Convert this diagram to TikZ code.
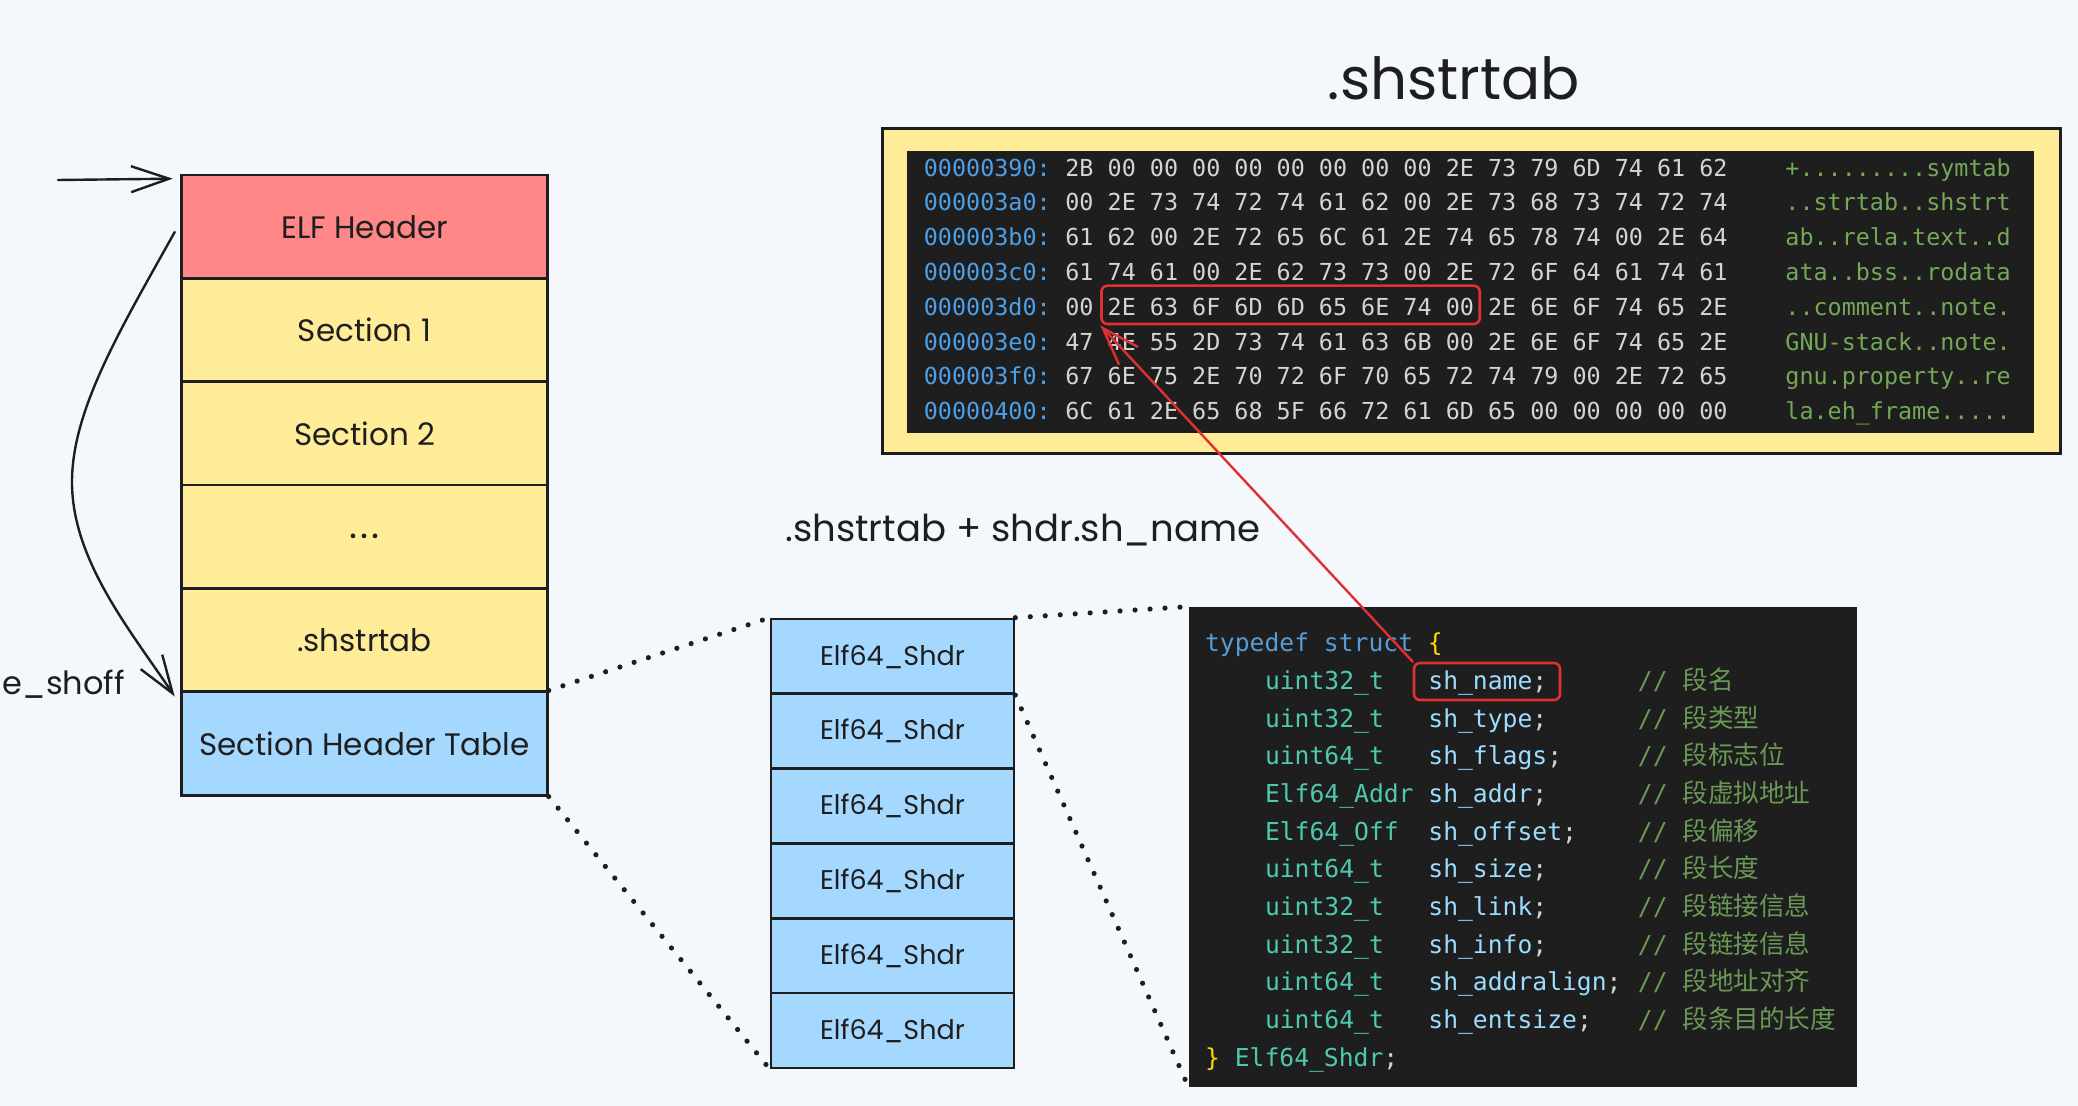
\documentclass[tikz,border=0pt]{standalone}
\usepackage{fontspec}
\usetikzlibrary{arrows.meta,calc}
\newfontfamily\hand{Poppins}
\newfontfamily\monof{DejaVu Sans Mono}
\newfontfamily\cjk{Noto Sans CJK SC}
\definecolor{bgc}{HTML}{F4F8FC}
\definecolor{stroke}{HTML}{1E1E1E}
\definecolor{elfred}{HTML}{FF8787}
\definecolor{yelF}{HTML}{FFEC99}
\definecolor{bluF}{HTML}{A5D8FF}
\definecolor{panel}{HTML}{1E1E1E}
\definecolor{addrc}{HTML}{4D9FE6}
\definecolor{hexc}{HTML}{D4D4D4}
\definecolor{ascc}{HTML}{73A857}
\definecolor{kwc}{HTML}{569CD6}
\definecolor{brc}{HTML}{FFD700}
\definecolor{tyc}{HTML}{4EC9B0}
\definecolor{nmc}{HTML}{9CDCFE}
\definecolor{cmc}{HTML}{6A9955}
\definecolor{redc}{HTML}{E03131}
\tikzset{
  cell/.style={draw=stroke, line width=1.3pt, minimum width=182.85pt, minimum height=51.7pt, inner sep=0pt, font=\hand\fontsize{15.5pt}{18pt}\selectfont, text=stroke},
  shdr/.style={draw=stroke, line width=1.3pt, fill=bluF, minimum width=121.5pt, minimum height=37.4pt, inner sep=0pt, font=\hand\fontsize{13.5pt}{16pt}\selectfont, text=stroke},
  hx/.style={anchor=base west, inner sep=0pt, font=\monof\fontsize{11.7pt}{14pt}\selectfont},
  cd/.style={anchor=base west, inner sep=0pt, font=\monof\fontsize{12.34pt}{15pt}\selectfont},
  handtext/.style={inner sep=0pt, text=stroke},
  arr/.style={draw=stroke, line width=1.2pt, line cap=round, -{Straight Barb[length=19pt,width=13pt,line width=1.2pt]}},
  redarr/.style={draw=redc, line width=1.2pt, line cap=round, -{Straight Barb[length=19pt,width=13pt,line width=1.2pt]}},
  dotline/.style={draw=stroke, line width=2.6pt, line cap=round, dash pattern=on 0pt off 7.5pt},
  redbox/.style={draw=redc, line width=1.3pt, rounded corners=3pt, inner sep=0pt}
}
\newcommand\hexrow[4]{%
  \node[hx, text=addrc] (ha#1) at (923.5,{176.2+34.8*#1}) {#2};
  \node[hx, text=hexc] (hb#1) at (1065,{176.2+34.8*#1}) {#3};
  \node[hx, text=ascc] (hc#1) at (1785,{176.2+34.8*#1}) {#4};
}
\begin{document}
\begin{tikzpicture}[x=0.5pt,y=-0.5pt]
\fill[bgc] (0,0) rectangle (2078,1106);
\useasboundingbox (0,0) rectangle (2078,1106);

% ---- left stack ----
\node[cell, fill=elfred] (elf) at (364.5,226.7) {ELF Header};
\node[cell, fill=yelF] (s1) at (364.5,330.0) {Section 1};
\node[cell, fill=yelF] (s2) at (364.5,433.4) {Section 2};
\node[cell, fill=yelF] (sd) at (364.5,536.7) {\fontsize{19pt}{20pt}\selectfont.\kern1.6pt.\kern1.6pt.};
\node[cell, fill=yelF] (sst) at (364.5,640.1) {.shstrtab};
\node[cell, fill=bluF] (sht) at (364.5,743.5) {Section Header Table};

% top arrow
\coordinate (ta) at (58,180);
\draw[arr] (ta) -- ($(elf.north west)+(-7.6,5)$);
% e_shoff curved arrow
\coordinate (cs) at ($(elf.west)+(-5.6,5.3)$);
\coordinate (cm) at (72,482);
\coordinate (ce) at ($(sht.north west)+(-5.6,6)$);
\draw[arr] (cs) .. controls (120,330) and (72,410) .. (cm) .. controls (72,560) and (130,630) .. (ce);
\node[handtext, font=\hand\fontsize{16pt}{18pt}\selectfont] (esh) at (64,684) {e\_shoff};

% ---- Elf64_Shdr stack ----
\foreach \i [count=\k from 0] in {1,2,3,4,5,6}{
  \node[shdr] (e\i) at (892.5,{656.4+74.8*\k}) {Elf64\_Shdr};
}

% ---- title & label ----
\node[handtext, font=\hand\fontsize{29pt}{32pt}\selectfont] (title) at (1454,78) {.shstrtab};
\node[handtext, font=\hand\fontsize{18.5pt}{22pt}\selectfont] (lbl) at (1023,530) {.shstrtab + shdr.sh\_name};

% ---- hex panel ----
\node[draw=stroke, line width=1.5pt, fill=yelF, minimum width=589.1pt, minimum height=162.35pt, inner sep=0pt] (hexout) at (1471.7,291) {};
\node[fill=panel, minimum width=563.75pt, minimum height=140.85pt, inner sep=0pt] (hexin) at (1470.25,291.85) {};
\hexrow{0}{00000390:}{2B 00 00 00 00 00 00 00 00 2E 73 79 6D 74 61 62}{+.........symtab}
\hexrow{1}{000003a0:}{00 2E 73 74 72 74 61 62 00 2E 73 68 73 74 72 74}{..strtab..shstrt}
\hexrow{2}{000003b0:}{61 62 00 2E 72 65 6C 61 2E 74 65 78 74 00 2E 64}{ab..rela.text..d}
\hexrow{3}{000003c0:}{61 74 61 00 2E 62 73 73 00 2E 72 6F 64 61 74 61}{ata..bss..rodata}
\hexrow{4}{000003d0:}{00 2E 63 6F 6D 6D 65 6E 74 00 2E 6E 6F 74 65 2E}{..comment..note.}
\hexrow{5}{000003e0:}{47 4E 55 2D 73 74 61 63 6B 00 2E 6E 6F 74 65 2E}{GNU-stack..note.}
\hexrow{6}{000003f0:}{67 6E 75 2E 70 72 6F 70 65 72 74 79 00 2E 72 65}{gnu.property..re}
\hexrow{7}{00000400:}{6C 61 2E 65 68 5F 66 72 61 6D 65 00 00 00 00 00}{la.eh\_frame.....}
\node[redbox, minimum width=189.1pt, minimum height=19.15pt] (rb) at (1290.6,304.85) {};

% ---- code panel ----
\node[fill=panel, minimum width=334pt, minimum height=240pt, inner sep=0pt] (code) at (1523,847) {};
\node[cd] (c0) at (1204.7,652) {\textcolor{kwc}{typedef struct} \textcolor{brc}{\{}};
\foreach \ty/\nm/\cm [count=\i from 0] in {
  uint32\_t/sh\_name/段名,
  uint32\_t/sh\_type/段类型,
  uint64\_t/sh\_flags/段标志位,
  Elf64\_Addr/sh\_addr/段虚拟地址,
  Elf64\_Off/sh\_offset/段偏移,
  uint64\_t/sh\_size/段长度,
  uint32\_t/sh\_link/段链接信息,
  uint32\_t/sh\_info/段链接信息,
  uint64\_t/sh\_addralign/段地址对齐,
  uint64\_t/sh\_entsize/段条目的长度}{
  \node[cd, text=tyc] (ty\i) at (1264.6,{689.6+37.64*\i}) {\ty};
  \node[cd, text=nmc] (nm\i) at (1428,{689.6+37.64*\i}) {\nm\textcolor{hexc}{;}};
  \node[cd, text=cmc] (cm\i) at (1637.5,{689.6+37.64*\i}) {// {\cjk\fontsize{12.8pt}{15pt}\selectfont\cm}};
}
\node[cd] (cend) at (1204.7,1066) {\textcolor{brc}{\}} \textcolor{tyc}{Elf64\_Shdr}\textcolor{hexc}{;}};
\node[redbox, minimum width=73pt, minimum height=18.5pt] (shn) at (1487,681.5) {};

% ---- dotted zoom lines ----
\draw[dotline] (sht.north east) -- (e1.north west);
\draw[dotline] (sht.south east) -- (e6.south west);
\draw[dotline] (e1.north east) -- (code.north west);
\draw[dotline] (e1.south east) -- (code.south west);

% ---- red arrow ----
\draw[redarr] (shn.north west) -- (rb.south west);
\end{tikzpicture}
\end{document}
